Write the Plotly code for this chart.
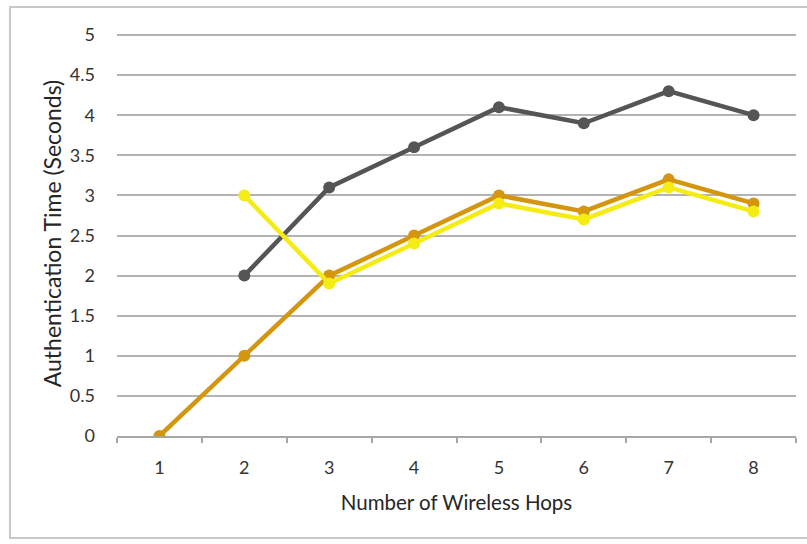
import plotly.graph_objects as go

# Hop counts along the x axis
hops = ["1", "2", "3", "4", "5", "6", "7", "8"]

# Authentication time (seconds) for each series
gray_hops = ["2", "3", "4", "5", "6", "7", "8"]
gray_vals = [2.0, 3.1, 3.6, 4.1, 3.9, 4.3, 4.0]

orange_hops = ["1", "2", "3", "4", "5", "6", "7", "8"]
orange_vals = [0.0, 1.0, 2.0, 2.5, 3.0, 2.8, 3.2, 2.9]

yellow_hops = ["2", "3", "4", "5", "6", "7", "8"]
yellow_vals = [3.0, 1.9, 2.4, 2.9, 2.7, 3.1, 2.8]

y_ticks = [0, 0.5, 1, 1.5, 2, 2.5, 3, 3.5, 4, 4.5, 5]
y_tick_text = ["0", "0.5", "1", "1.5", "2", "2.5", "3", "3.5", "4", "4.5", "5"]

FONT = "Lato, 'Open Sans', sans-serif"

fig = go.Figure()

series = [
    (gray_hops, gray_vals, "#555555"),
    (orange_hops, orange_vals, "#d4960f"),
    (yellow_hops, yellow_vals, "#f4ec12"),
]
for xs, ys, color in series:
    fig.add_trace(go.Scatter(
        x=xs, y=ys, mode="lines+markers",
        line=dict(color=color, width=4.5),
        marker=dict(color=color, size=12),
        showlegend=False, hoverinfo="skip",
    ))

fig.update_xaxes(
    type="category", categoryorder="array", categoryarray=hops,
    range=[-0.5, 7.5], tickson="boundaries",
    ticks="outside", ticklen=5, tickcolor="#a6a6a6", tickwidth=1.5,
    showline=True, linecolor="#a6a6a6", linewidth=1.5,
    showgrid=False, zeroline=False,
    tickfont=dict(family=FONT, size=18, color="#333333"),
    ticklabelstandoff=15,
    title=dict(text="Number of Wireless Hops",
               font=dict(family=FONT, size=20.5, color="#262626"),
               standoff=18),
)
fig.update_yaxes(
    range=[0, 5.05], tickvals=y_ticks, ticktext=y_tick_text,
    showgrid=True, gridcolor="#b3b3b3", gridwidth=2,
    zeroline=False, showline=False, ticks="",
    tickfont=dict(family=FONT, size=18, color="#333333"),
    ticklabelstandoff=21,
    title=dict(text="Authentication Time (Seconds)",
               font=dict(family=FONT, size=23, color="#262626"),
               standoff=1),
)

# Chart area border
fig.add_shape(
    type="rect", xref="paper", yref="paper",
    x0=-0.1576, x1=1.05, y0=-0.2519, y1=1.0593,
    line=dict(color="#c8c8c8", width=2), fillcolor="rgba(0,0,0,0)",
    layer="below",
)

fig.update_layout(
    width=807, height=544,
    margin=dict(l=117, r=11, t=31, b=108),
    paper_bgcolor="white", plot_bgcolor="white",
)

fig.write_html("out.html")
